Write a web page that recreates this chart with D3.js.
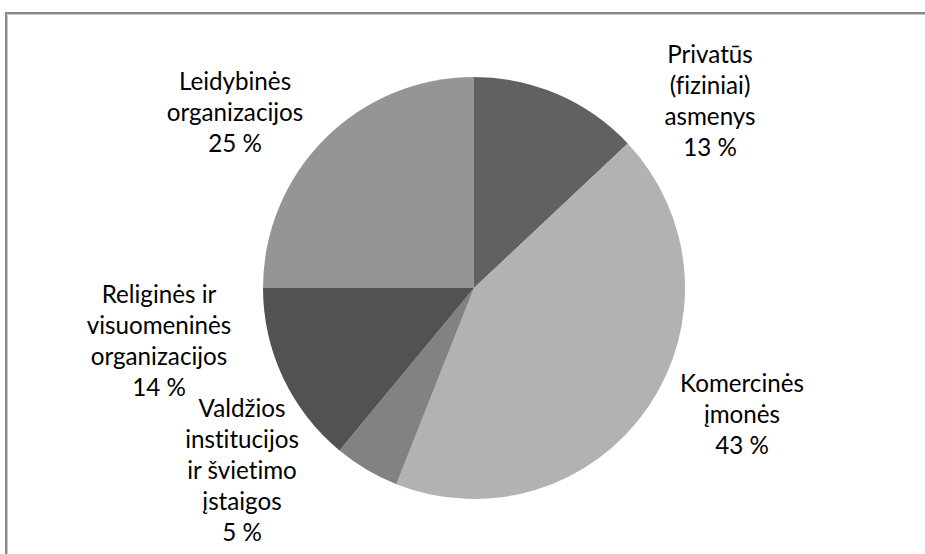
<!DOCTYPE html>
<html>
<head>
<meta charset="utf-8">
<script src="https://cdn.jsdelivr.net/npm/d3@7"></script>
<style>
  html, body { margin: 0; padding: 0; background: #fff; }
  svg { display: block; }
  .lbl { font-family: Lato, "Open Sans", sans-serif; font-size: 24.2px; fill: #000;
         font-variant-ligatures: none; }
</style>
</head>
<body>
<div class="container"></div>
<script>
// slice data, clockwise from 12 o'clock
var categories = [
  ['Privatūs', '(fiziniai)', 'asmenys'],
  ['Komercinės', 'įmonės'],
  ['Valdžios', 'institucijos', 'ir švietimo', 'įstaigos'],
  ['Religinės ir', 'visuomeninės', 'organizacijos'],
  ['Leidybinės', 'organizacijos']
];
var values = [13, 43, 5, 14, 25];
var colors = ['#616161', '#b2b2b2', '#828282', '#525252', '#959595'];

const WIDTH = 925;
const HEIGHT = 554;
const CX = 474;
const CY = 288;
const RADIUS = 211;
const LINE_H = 31;

// label anchor (centre x, first baseline) for each slice, "best fit" style
var labelPos = [[710, 63], [742, 392], [242, 417], [159, 303], [235, 90]];

var translate = function (x, y) {
  return 'translate(' + x + ',' + y + ')';
};

var onload = function () {
  var svg = d3.select('.container').append('svg')
    .attr('width', WIDTH)
    .attr('height', HEIGHT);

  svg.append('rect').attr('width', WIDTH).attr('height', HEIGHT).attr('fill', '#fff');

  // chart frame (runs off the right / bottom edge)
  svg.append('path')
    .attr('d', 'M6,' + (HEIGHT + 10) + 'V13H' + (WIDTH + 10))
    .attr('fill', 'none')
    .attr('stroke', '#8a8a8a')
    .attr('stroke-width', 2);
  svg.append('path')
    .attr('d', 'M7.5,' + (HEIGHT + 10) + 'V14.5H' + (WIDTH + 10))
    .attr('fill', 'none')
    .attr('stroke', '#c8c8c8')
    .attr('stroke-width', 1);

  var pie = d3.pie().sort(null).value(function (d) { return d; });
  var arc = d3.arc().innerRadius(0).outerRadius(RADIUS);

  var g = svg.append('g').attr('transform', translate(CX, CY));
  g.selectAll('path.slice')
    .data(pie(values))
    .enter().append('path')
    .attr('class', 'slice')
    .attr('d', arc)
    .attr('fill', function (d, i) { return colors[i]; });

  var labels = svg.selectAll('text.lbl')
    .data(categories)
    .enter().append('text')
    .attr('class', 'lbl')
    .attr('text-anchor', 'middle')
    .attr('transform', function (d, i) { return translate(labelPos[i][0], labelPos[i][1]); });

  labels.each(function (lines, i) {
    var t = d3.select(this);
    lines.concat([values[i] + ' %']).forEach(function (s, k) {
      t.append('tspan').attr('x', 0).attr('y', k * LINE_H).text(s);
    });
  });
};

window.onload = onload;
</script>
</body>
</html>
